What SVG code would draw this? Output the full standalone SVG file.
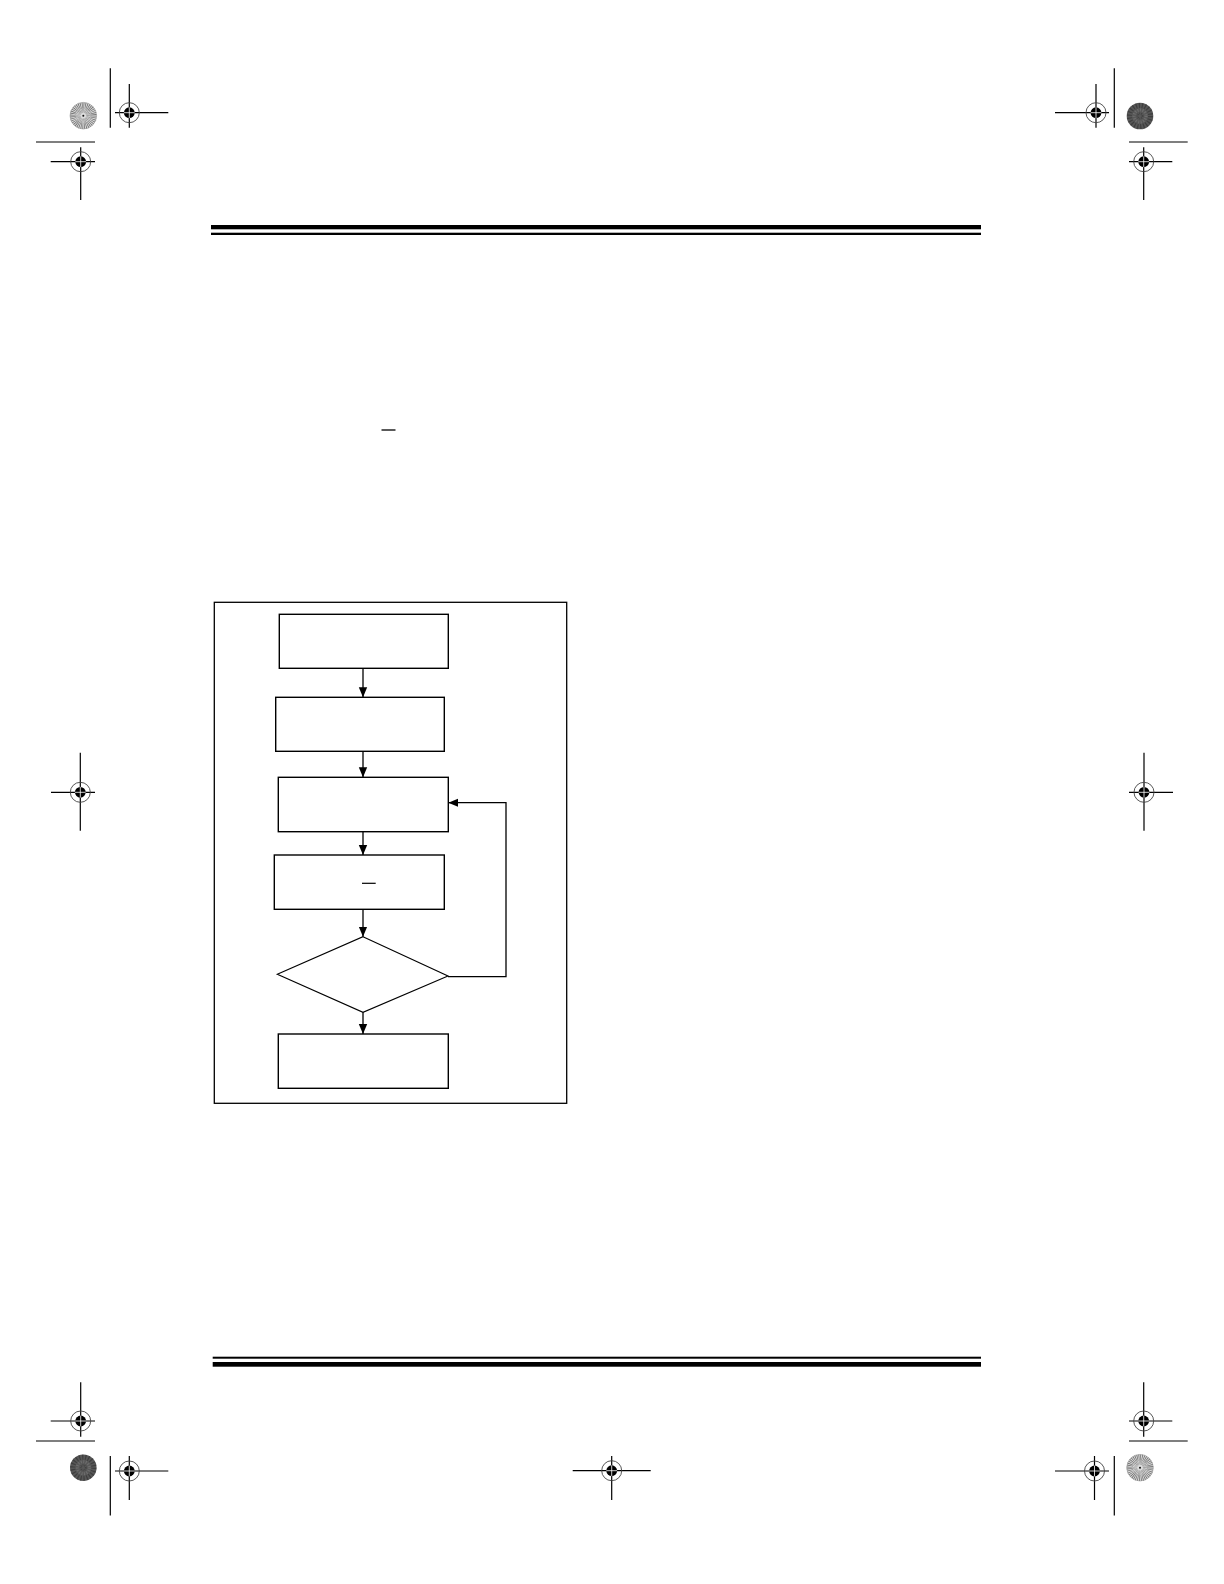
<svg xmlns="http://www.w3.org/2000/svg" xmlns:xlink="http://www.w3.org/1999/xlink" width="1224" height="1584" viewBox="0 0 1224 1584">
<style>
.box{fill:#fff;stroke:#000;stroke-width:1.4}
.frame{fill:none;stroke:#000;stroke-width:1.3}
.conn{fill:none;stroke:#000;stroke-width:1.3}
.crop{stroke:#000;stroke-width:1.2;fill:none}
.bar{fill:#000}
</style>
<defs>
<marker id="ah" markerUnits="userSpaceOnUse" markerWidth="10" markerHeight="10" viewBox="0 0 10 10" refX="10" refY="5" orient="auto">
<path d="M0,0.8 L10,5 L0,9.2 Z" fill="#000"/>
</marker>
<g id="reg">
<circle r="10" fill="none" stroke="#444" stroke-width="0.9"/>
<circle r="5.4" fill="#000"/>
<path d="M-5.4,0 H5.4 M0,-5.4 V5.4" stroke="#fff" stroke-width="0.8"/>
</g>
<g id="starLight">
<circle r="13.3" fill="#dcdcdc"/>
<circle r="10.2" fill="none" stroke="#6a6a6a" stroke-width="6.2" stroke-dasharray="0.7 0.9"/>
<circle r="5" fill="none" stroke="#888" stroke-width="4.2" stroke-dasharray="0.5 0.6"/>
<circle r="13.3" fill="none" stroke="#999" stroke-width="0.6"/>
<circle r="1" fill="#111"/>
</g>
<g id="starDark">
<circle r="13.3" fill="#575757"/>
<circle r="10.5" fill="none" stroke="#3e3e3e" stroke-width="5" stroke-dasharray="1.2 1.8"/>
<circle r="6" fill="none" stroke="#6e6e6e" stroke-width="3" stroke-dasharray="1 1.5"/>
<circle r="2.5" fill="none" stroke="#404040" stroke-width="2" stroke-dasharray="0.8 1"/>
</g>
</defs>

<g id="page-marks">
<rect class="bar" x="211" y="225" width="770" height="4.3"/>
<rect class="bar" x="211" y="232.7" width="770" height="2.3"/>
<rect class="bar" x="212.7" y="1356.7" width="768.3" height="2"/>
<rect class="bar" x="212.7" y="1362" width="768.3" height="4.7"/>

<use xlink:href="#starLight" x="83.3" y="115.7"/>
<use xlink:href="#starDark" x="1140" y="116"/>
<use xlink:href="#starDark" x="83.3" y="1467.7"/>
<use xlink:href="#starLight" x="1140" y="1467.7"/>

<path class="crop" d="M110.3,68.3 V127.7 M36,142 H95 M1114.3,68.3 V127.7 M1129,142 H1187.7 M36,1441 H95 M110.3,1456 V1515.4 M1129,1441 H1187.7 M1114.3,1456 V1515.4"/>

<path class="crop" d="M115,112.7 H168.3 M129.3,84 V127.7"/>
<use xlink:href="#reg" x="129.3" y="112.7"/>
<path class="crop" d="M50.7,161.7 H95 M80.7,147.3 V200"/>
<use xlink:href="#reg" x="80.7" y="161.7"/>
<path class="crop" d="M1055,112.7 H1109 M1096,84 V127.7"/>
<use xlink:href="#reg" x="1096" y="112.7"/>
<path class="crop" d="M1129,161.7 H1172.3 M1143.7,147.3 V200"/>
<use xlink:href="#reg" x="1143.7" y="161.7"/>
<path class="crop" d="M51,792.3 H95 M80.3,752.7 V830.7"/>
<use xlink:href="#reg" x="80.3" y="792.3"/>
<path class="crop" d="M1129,792.3 H1173 M1144,752.7 V830.7"/>
<use xlink:href="#reg" x="1144" y="792.3"/>
<path class="crop" d="M50.7,1421 H95 M80.7,1382.3 V1436.7"/>
<use xlink:href="#reg" x="80.7" y="1421"/>
<path class="crop" d="M115,1471 H168.3 M129.3,1456 V1500"/>
<use xlink:href="#reg" x="129.3" y="1471"/>
<path class="crop" d="M572.7,1470.7 H650.7 M611.7,1456 V1500"/>
<use xlink:href="#reg" x="611.7" y="1470.7"/>
<path class="crop" d="M1129,1421 H1172.3 M1143.7,1382.3 V1436.7"/>
<use xlink:href="#reg" x="1143.7" y="1421"/>
<path class="crop" d="M1055,1471 H1109 M1094.5,1456 V1500"/>
<use xlink:href="#reg" x="1094.5" y="1471"/>

<line x1="381.5" y1="430" x2="395.5" y2="430" stroke="#000" stroke-width="1.3"/>
</g>

<g id="figure">
<rect class="frame" x="214.3" y="602.3" width="352.4" height="501"/>

<g id="node1"><rect class="box" x="279.3" y="614.3" width="169" height="54"/></g>
<g id="node2"><rect class="box" x="275.7" y="697.3" width="168.6" height="54"/></g>
<g id="node3"><rect class="box" x="278.3" y="777.3" width="170" height="54.4"/></g>
<g id="node4"><rect class="box" x="274.3" y="855" width="170" height="54.3"/>
<line x1="362" y1="883.3" x2="375.7" y2="883.3" stroke="#000" stroke-width="1.2"/></g>
<g id="node5"><polygon class="box" points="363,936.7 448,976 363,1012.3 277.3,974.3" style="stroke-width:1.1"/></g>
<g id="node6"><rect class="box" x="278.3" y="1034" width="170" height="54.3"/></g>

<g id="connectors">
<path class="conn" d="M363,668.3 V697.3" marker-end="url(#ah)"/>
<path class="conn" d="M363,751.3 V777.3" marker-end="url(#ah)"/>
<path class="conn" d="M363,831.7 V855" marker-end="url(#ah)"/>
<path class="conn" d="M363,909.3 V936.7" marker-end="url(#ah)"/>
<path class="conn" d="M363,1012.3 V1034" marker-end="url(#ah)"/>
<path class="conn" d="M448,976.7 H506 V802.7 H448.3" marker-end="url(#ah)"/>
</g>
</g>
</svg>
